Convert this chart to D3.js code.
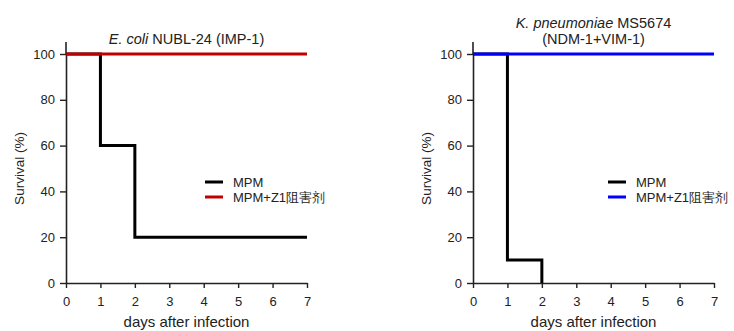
<!DOCTYPE html>
<html><head><meta charset="utf-8">
<script src="https://cdn.jsdelivr.net/npm/d3@7"></script>
<style>body{margin:0;background:#fff}svg{display:block}text{font-family:"Liberation Sans",Arial,sans-serif;fill:#222}</style>
</head><body><svg id="c" width="734" height="331"></svg>
<script>
const days = [0,1,2,3,4,5,6,7];
const yTicks = [0,20,40,60,80,100];
const seriesNames = ["MPM","MPM+Z1阻害剂"];
const ecoliMPM = [[0,100],[1,60],[2,20],[7,20]];
const ecoliZ1 = [[0,100],[7,100]];
const kpMPM = [[0,100],[1,10],[2,0]];
const kpZ1 = [[0,100],[7,100]];
const panels = [
  {left:66, title:[[{t:"E. coli",i:true},{t:" NUBL-24 (IMP-1)"}]], mpm:ecoliMPM, z1:ecoliZ1, z1color:"#c00000", legX:205},
  {left:473, title:[[{t:"K. pneumoniae",i:true},{t:" MS5674"}],[{t:"(NDM-1+VIM-1)"}]], mpm:kpMPM, z1:kpZ1, z1color:"#0000ff", legX:608}
];
const svg = d3.select("#c");
const W = 241, plotTop = 54, plotBottom = 283;
panels.forEach(p => {
  const x = d3.scaleLinear().domain([0,7]).range([p.left, p.left+W]);
  const y = d3.scaleLinear().domain([0,100]).range([plotBottom, plotTop]);
  const g = svg.append("g");
  const xa = g.append("g").attr("transform",`translate(0,${plotBottom})`)
    .call(d3.axisBottom(x).tickValues(days).tickFormat(d3.format("d")).tickSize(5).tickSizeOuter(0).tickPadding(9));
  const ya = g.append("g").attr("transform",`translate(${p.left},0)`)
    .call(d3.axisLeft(y).tickValues(yTicks).tickFormat(d3.format("d")).tickSize(6).tickSizeOuter(0).tickPadding(5));
  [xa,ya].forEach(a=>{
    a.select(".domain").attr("stroke","#222").attr("stroke-width",1.6);
    a.selectAll(".tick line").attr("stroke","#222").attr("stroke-width",1.4);
    a.selectAll(".tick text").attr("font-size",13).attr("fill","#222").style("font-family","Liberation Sans, Arial, sans-serif");
  });
  g.append("line").attr("x1",p.left).attr("x2",p.left).attr("y1",plotTop-12).attr("y2",plotTop).attr("stroke","#222").attr("stroke-width",1.6);
  const line = d3.line().x(d=>x(d[0])).y(d=>y(d[1])).curve(d3.curveStepAfter);
  g.append("path").attr("d",line(p.mpm)).attr("fill","none").attr("stroke","#000").attr("stroke-width",3).attr("stroke-linejoin","miter");
  g.append("path").attr("d",line(p.z1)).attr("fill","none").attr("stroke",p.z1color).attr("stroke-width",3);
  const cx = p.left + W/2;
  p.title.forEach((ln,i)=>{
    const n = p.title.length;
    const t = g.append("text").attr("x",cx).attr("y", (n===1?44:28+i*16)).attr("text-anchor","middle").attr("font-size",14.5);
    ln.forEach(s=>t.append("tspan").text(s.t).attr("font-style",s.i?"italic":"normal"));
  });
  g.append("text").attr("transform",`translate(${p.left-42},${(plotTop+plotBottom)/2}) rotate(-90)`).attr("text-anchor","middle").attr("font-size",13.5).text("Survival (%)");
  g.append("text").attr("x",cx).attr("y",327).attr("text-anchor","middle").attr("font-size",15).text("days after infection");
  const colors = ["#000", p.z1color];
  seriesNames.forEach((nm,i)=>{
    const ly = 182 + i*15;
    g.append("line").attr("x1",p.legX).attr("x2",p.legX+18).attr("y1",ly).attr("y2",ly).attr("stroke",colors[i]).attr("stroke-width",3);
    g.append("text").attr("x",p.legX+28).attr("y",ly+5).attr("font-size",13).text(nm);
  });
});
</script></body></html>
